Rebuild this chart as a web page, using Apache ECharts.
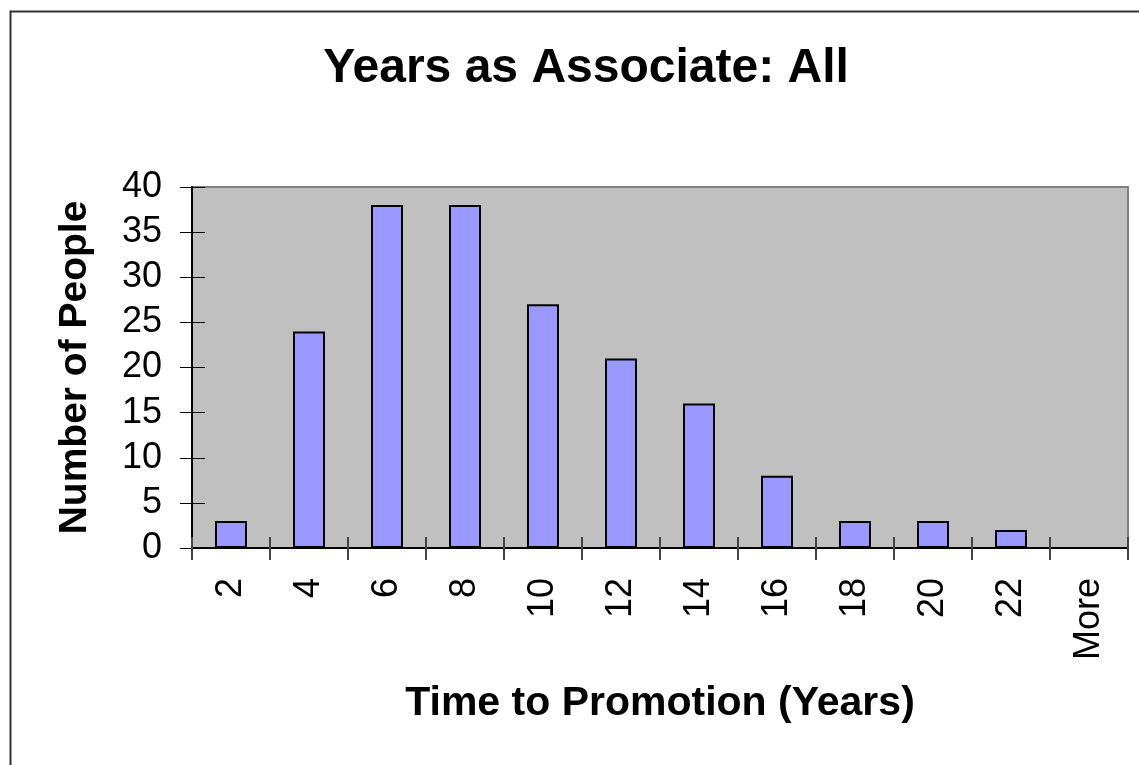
<!DOCTYPE html>
<html>
<head>
<meta charset="utf-8">
<script src="https://cdn.jsdelivr.net/npm/echarts@6/dist/echarts.min.js"></script>
<style>
  html, body { margin: 0; padding: 0; background: #fff; }
  #main { width: 1139px; height: 765px; }
</style>
</head>
<body>
<div id="main"></div>
<script>
// 分组（年）
const categories = ['2', '4', '6', '8', '10', '12', '14', '16', '18', '20', '22', 'More'];
// 人数
const counts = [3, 24, 38, 38, 27, 21, 16, 8, 3, 3, 2, 0];

const chartDom = document.getElementById('main');
let myChart = echarts.init(chartDom);

const font = 'Liberation Sans, Arial, sans-serif';

let option = {
    animation: false,
    graphic: [
        {
            type: 'rect',
            left: 8,
            top: 9,
            shape: { width: 1200, height: 800 },
            style: { fill: 'none', stroke: '#333', lineWidth: 2 },
            silent: true
        },
        {
            type: 'text',
            x: 586,
            y: 45,
            style: {
                text: 'Years as Associate: All',
                textAlign: 'center',
                fontFamily: font,
                fontSize: 48,
                fontWeight: 'bold',
                fill: '#000'
            }
        }
    ],
    grid: {
        left: 192,
        right: 11,
        top: 187,
        bottom: 217,
        show: true,
        backgroundColor: '#c0c0c0',
        borderColor: '#808080',
        borderWidth: 2
    },
    xAxis: [
        {
            type: 'category',
            data: categories,
            position: 'bottom',
            name: 'Time to Promotion (Years)',
            nameLocation: 'middle',
            nameGap: 135,
            nameTextStyle: {
                fontFamily: font,
                fontSize: 41,
                fontWeight: 'bold',
                color: '#000'
            },
            axisLine: { lineStyle: { color: '#000', width: 2 } },
            axisTick: { show: true, inside: false, length: 12, lineStyle: { color: '#444', width: 2 } },
            axisLabel: {
                rotate: 90,
                margin: 30,
                fontFamily: font,
                fontSize: 36,
                color: '#000'
            }
        },
        {
            // 刻度线向内的部分（交叉刻度）
            type: 'category',
            data: categories,
            position: 'bottom',
            axisLine: { show: false },
            axisTick: { show: true, inside: true, length: 11, lineStyle: { color: '#444', width: 2 } },
            axisLabel: { show: false }
        }
    ],
    yAxis: [
        {
            type: 'value',
            min: 0,
            max: 40,
            interval: 5,
            name: 'Number of People',
            nameLocation: 'middle',
            nameGap: 97,
            nameRotate: 90,
            nameTextStyle: {
                fontFamily: font,
                fontSize: 39,
                fontWeight: 'bold',
                color: '#000'
            },
            axisLine: { show: true, lineStyle: { color: '#000', width: 2 } },
            axisTick: { show: true, length: 12, lineStyle: { color: '#000', width: 1 } },
            splitLine: { show: false },
            axisLabel: {
                margin: 30,
                fontFamily: font,
                fontSize: 36,
                color: '#000'
            }
        },
        {
            type: 'value',
            min: 0,
            max: 40,
            interval: 5,
            position: 'left',
            axisLine: { show: false },
            axisTick: { show: true, inside: true, length: 13, lineStyle: { color: '#000', width: 1 } },
            splitLine: { show: false },
            axisLabel: { show: false }
        }
    ],
    series: [
        {
            type: 'bar',
            data: counts,
            xAxisIndex: 0,
            yAxisIndex: 0,
            barWidth: 32,
            itemStyle: {
                color: '#9999ff',
                borderColor: '#000',
                borderWidth: 2
            }
        }
    ]
};

option && myChart.setOption(option);
</script>
</body>
</html>
